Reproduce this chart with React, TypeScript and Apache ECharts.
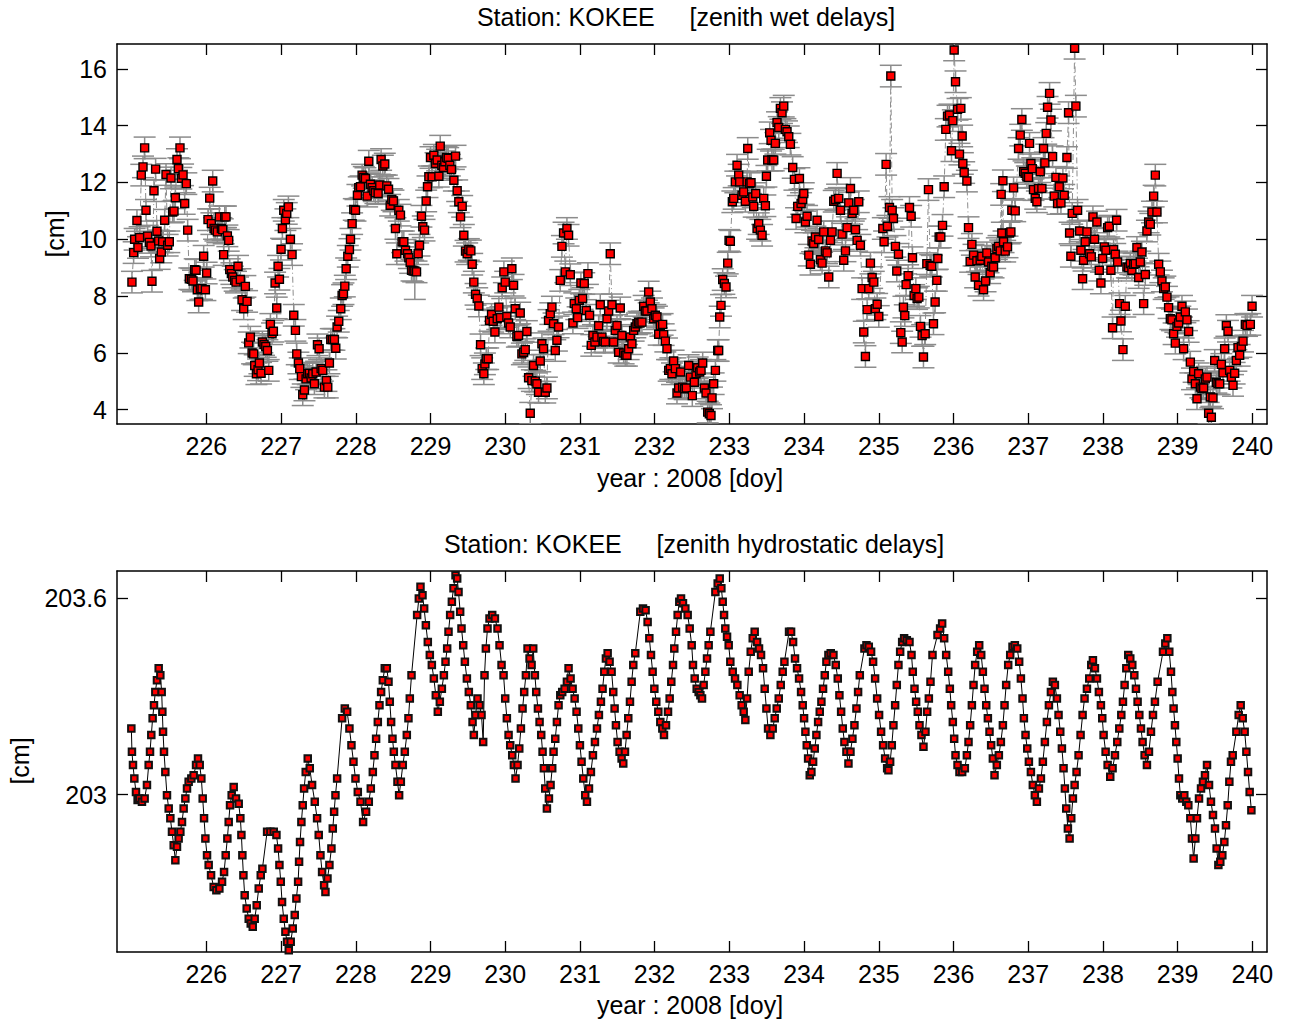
import React, { useEffect, useRef } from "react";
import * as echarts from "echarts";

// ---------- tick values ----------
const xTicks = [226, 227, 228, 229, 230, 231, 232, 233, 234, 235, 236, 237, 238, 239, 240];
const wetYTicks = [4, 6, 8, 10, 12, 14, 16];
const hydroYTicks = [203, 203.6];

// ---------- axis ranges ----------
const X_MIN = 224.804;
const X_MAX = 240.196;
const WET_MIN = 3.49;
const WET_MAX = 16.88;
const HYD_MIN = 202.518;
const HYD_MAX = 203.684;

// default formal error of the wet delays [cm] (third element overrides)
const WET_SIGMA = 0.38;

// ---------- zenith wet delays [doy, cm, (sigma)] ----------
const wetData: number[][] = [
  [225.004, 8.49], [225.027, 9.53], [225.04, 10.0], [225.071, 10.66], [225.085, 9.71], [225.107, 10.06],
  [225.129, 12.26], [225.152, 12.55], [225.174, 13.22], [225.192, 11.02], [225.214, 10.11], [225.237, 9.89],
  [225.259, 9.76], [225.272, 8.52], [225.299, 11.71], [225.321, 12.47], [225.339, 10.28], [225.362, 9.94],
  [225.375, 9.32], [225.397, 9.55], [225.415, 9.91], [225.442, 10.67], [225.46, 12.28], [225.482, 9.79],
  [225.504, 9.91], [225.527, 12.16], [225.549, 10.96], [225.567, 10.99], [225.585, 11.46], [225.607, 12.81],
  [225.625, 12.49], [225.647, 13.22], [225.665, 12.15], [225.688, 12.27], [225.71, 11.26], [225.732, 11.96],
  [225.75, 10.32], [225.772, 8.61], [225.799, 8.59], [225.821, 8.53], [225.844, 8.93], [225.862, 8.91],
  [225.879, 8.22], [225.897, 7.79], [225.92, 8.26], [225.942, 8.26], [225.964, 9.4], [225.987, 8.22],
  [226.004, 8.81], [226.022, 10.69], [226.045, 11.45], [226.067, 10.55], [226.085, 12.05], [226.103, 10.38],
  [226.121, 10.32], [226.147, 10.26], [226.174, 10.79], [226.201, 10.38], [226.219, 10.34], [226.232, 9.46],
  [226.246, 10.79], [226.263, 10.79], [226.281, 10.12], [226.299, 9.96], [226.313, 8.93], [226.335, 8.79],
  [226.353, 8.67], [226.379, 8.55], [226.397, 8.49], [226.424, 9.05], [226.455, 8.58], [226.478, 7.87],
  [226.5, 7.55], [226.522, 8.34], [226.545, 7.81], [226.567, 6.35], [226.589, 6.55], [226.612, 5.99],
  [226.634, 5.96], [226.647, 5.55], [226.67, 5.26], [226.692, 5.4], [226.71, 5.64], [226.732, 5.28],
  [226.75, 6.38], [226.772, 6.29], [226.795, 6.22], [226.817, 6.08], [226.835, 5.38], [226.857, 7.0],
  [226.879, 6.67], [226.897, 6.76], [226.92, 8.46], [226.942, 7.58], [226.96, 9.05], [226.978, 8.59],
  [227.0, 9.65], [227.018, 10.38], [227.036, 11.02], [227.058, 10.69], [227.076, 10.91], [227.098, 11.14],
  [227.125, 10.0], [227.147, 9.46], [227.17, 7.32], [227.192, 6.79], [227.21, 5.96], [227.232, 5.64],
  [227.25, 5.44], [227.272, 5.16], [227.29, 4.52], [227.313, 4.69], [227.335, 5.08], [227.357, 5.26],
  [227.379, 5.28], [227.402, 5.11], [227.424, 5.26], [227.446, 4.91], [227.469, 5.32], [227.487, 6.28],
  [227.509, 6.14], [227.536, 5.44], [227.558, 5.38], [227.58, 4.79], [227.607, 5.02], [227.625, 4.79],
  [227.647, 5.64], [227.665, 6.47], [227.688, 6.47], [227.714, 6.47], [227.732, 6.16], [227.75, 6.91],
  [227.772, 7.11], [227.799, 7.55], [227.817, 8.02], [227.835, 8.08], [227.853, 8.35], [227.871, 8.96],
  [227.893, 9.4], [227.915, 9.64], [227.929, 10.0], [227.951, 10.55], [227.973, 11.05], [227.996, 11.02],
  [228.022, 11.55], [228.04, 11.82], [228.063, 11.85], [228.085, 12.26], [228.107, 12.18], [228.129, 12.14],
  [228.152, 11.52], [228.174, 12.75], [228.196, 11.94], [228.219, 11.82], [228.241, 11.71], [228.263, 11.64],
  [228.299, 11.61], [228.321, 11.91], [228.339, 12.81], [228.362, 12.58], [228.388, 12.65], [228.415, 11.88],
  [228.438, 11.76], [228.46, 11.2], [228.482, 11.4], [228.504, 11.35], [228.531, 10.38], [228.549, 9.49],
  [228.576, 11.02], [228.598, 10.85], [228.62, 9.91], [228.643, 9.91], [228.665, 9.61], [228.692, 9.49],
  [228.71, 9.35], [228.728, 9.18], [228.746, 8.91], [228.768, 8.88], [228.79, 8.88, 1.0], [228.813, 8.85],
  [228.835, 9.49], [228.853, 9.79], [228.879, 10.81], [228.897, 10.44], [228.92, 10.32], [228.942, 11.35],
  [228.96, 11.85], [228.978, 12.2], [229.0, 12.88], [229.022, 12.2], [229.045, 12.96], [229.067, 12.67],
  [229.089, 12.79], [229.112, 12.22], [229.13, 13.28], [229.152, 12.61], [229.174, 12.53], [229.192, 12.73],
  [229.214, 12.88], [229.237, 12.85], [229.259, 12.61], [229.281, 12.46], [229.313, 12.08], [229.335, 12.93],
  [229.357, 11.71], [229.379, 11.32], [229.402, 10.79], [229.424, 11.16], [229.446, 10.14], [229.469, 9.58],
  [229.491, 9.49], [229.513, 9.64], [229.54, 9.59], [229.558, 9.12], [229.58, 8.49], [229.603, 8.06],
  [229.625, 7.91], [229.647, 7.65], [229.67, 6.28], [229.692, 5.44], [229.714, 5.26], [229.728, 5.61],
  [229.746, 5.79], [229.772, 5.79], [229.79, 7.14], [229.817, 7.35], [229.839, 7.11], [229.862, 6.73],
  [229.893, 7.2], [229.915, 7.61], [229.937, 7.24], [229.96, 8.29], [229.982, 8.85],
  [230.0, 8.49], [230.022, 7.28], [230.045, 7.05], [230.067, 6.91], [230.089, 8.96], [230.112, 8.38],
  [230.134, 7.55], [230.156, 6.58], [230.179, 6.61], [230.201, 7.4], [230.223, 5.96], [230.246, 6.02],
  [230.268, 6.11], [230.29, 6.75], [230.313, 5.12], [230.335, 3.87], [230.357, 5.02], [230.379, 5.55],
  [230.402, 5.0], [230.424, 4.91], [230.446, 4.61], [230.469, 5.71], [230.491, 6.32], [230.513, 6.14],
  [230.536, 4.61], [230.558, 4.76], [230.58, 7.14], [230.603, 7.38], [230.625, 7.61], [230.647, 7.02],
  [230.67, 6.08], [230.692, 6.44], [230.714, 6.91], [230.737, 8.55], [230.759, 9.75], [230.781, 10.22],
  [230.804, 8.85], [230.826, 10.38], [230.848, 10.14], [230.871, 8.75], [230.906, 7.05], [230.924, 7.73],
  [230.951, 7.55], [230.969, 7.24], [230.991, 7.85], [231.013, 8.46], [231.036, 7.91], [231.058, 8.44],
  [231.085, 7.49], [231.107, 8.79], [231.129, 7.32], [231.152, 6.26], [231.174, 6.61], [231.201, 6.38],
  [231.228, 6.55], [231.25, 6.95], [231.272, 7.69], [231.295, 6.55], [231.317, 6.4], [231.339, 6.38],
  [231.362, 7.2], [231.384, 7.47], [231.406, 9.49], [231.429, 7.69], [231.451, 6.38], [231.473, 6.79],
  [231.496, 6.96], [231.518, 6.02], [231.54, 7.58], [231.562, 6.61], [231.585, 5.99], [231.607, 5.91],
  [231.629, 5.91], [231.652, 6.14], [231.674, 6.55], [231.696, 6.32], [231.719, 6.79], [231.741, 6.91],
  [231.763, 7.02], [231.786, 7.08], [231.804, 7.05], [231.83, 7.08], [231.853, 7.64], [231.875, 7.47],
  [231.897, 7.47], [231.92, 8.14], [231.942, 7.79], [231.964, 7.55], [231.987, 7.2], [232.009, 7.32],
  [232.031, 7.26], [232.054, 6.65], [232.076, 6.96], [232.107, 7.0], [232.121, 6.64], [232.143, 6.41],
  [232.165, 6.14], [232.188, 5.38], [232.21, 5.44], [232.232, 5.26], [232.254, 5.71], [232.277, 5.44],
  [232.299, 4.58], [232.321, 4.76], [232.348, 5.32], [232.375, 4.79], [232.402, 4.73], [232.424, 4.76],
  [232.455, 5.55], [232.478, 5.14], [232.504, 4.49], [232.531, 4.96], [232.554, 5.26], [232.576, 5.47],
  [232.603, 5.32], [232.621, 5.38], [232.643, 5.64], [232.665, 4.76], [232.688, 4.58], [232.71, 3.91],
  [232.732, 3.85], [232.754, 3.79], [232.768, 4.41], [232.79, 4.91], [232.813, 5.38], [232.844, 6.08],
  [232.857, 6.08], [232.871, 7.26], [232.888, 7.67], [232.911, 8.58], [232.933, 8.44], [232.955, 8.32],
  [232.978, 9.16], [232.996, 9.96], [233.013, 9.93], [233.04, 11.32], [233.058, 11.44], [233.08, 12.02],
  [233.103, 12.61], [233.125, 12.26], [233.138, 12.02], [233.17, 11.55], [233.192, 11.67], [233.214, 11.34],
  [233.237, 12.02], [233.246, 13.2], [233.272, 11.96], [233.29, 11.99], [233.313, 11.49], [233.326, 11.16],
  [233.353, 11.61], [233.371, 10.38], [233.393, 10.55], [233.415, 10.32], [233.438, 10.14], [233.46, 11.44],
  [233.482, 11.18], [233.496, 12.22], [233.513, 12.79], [233.54, 13.75], [233.558, 13.49], [233.571, 12.79],
  [233.594, 12.79], [233.616, 13.38], [233.638, 14.11], [233.661, 13.94], [233.683, 14.61], [233.705, 14.46],
  [233.728, 14.69], [233.75, 13.87], [233.772, 13.79], [233.795, 13.61], [233.817, 13.35], [233.848, 12.53],
  [233.871, 12.11], [233.893, 10.73], [233.915, 11.16], [233.938, 12.14], [233.96, 11.26], [233.982, 11.4],
  [233.996, 11.61], [234.018, 10.61], [234.04, 10.81], [234.063, 9.44], [234.085, 9.12], [234.107, 9.94],
  [234.129, 9.85], [234.152, 10.08], [234.174, 10.67], [234.196, 9.99], [234.219, 9.28], [234.241, 9.16],
  [234.263, 10.26], [234.286, 9.59], [234.308, 9.52], [234.33, 8.67], [234.353, 9.96], [234.375, 10.26],
  [234.397, 11.34], [234.42, 11.4], [234.442, 12.32], [234.464, 11.44], [234.487, 11.02], [234.509, 10.18],
  [234.531, 9.26], [234.554, 9.59], [234.576, 10.41], [234.598, 11.28], [234.621, 11.79], [234.643, 10.91],
  [234.665, 11.02], [234.688, 10.34], [234.71, 9.96], [234.732, 11.32], [234.754, 9.79], [234.777, 8.26],
  [234.799, 6.73], [234.821, 5.87], [234.844, 7.52], [234.866, 8.26], [234.888, 9.16], [234.911, 8.65],
  [234.933, 8.49], [234.955, 7.55], [234.978, 7.71], [235.0, 7.28],
  [235.054, 10.38], [235.071, 9.91], [235.098, 12.64], [235.116, 10.46], [235.143, 11.12], [235.161, 15.75],
  [235.179, 11.02], [235.196, 10.73], [235.223, 9.75], [235.241, 8.88], [235.263, 9.47], [235.295, 6.71],
  [235.313, 6.38], [235.33, 7.61], [235.348, 7.31], [235.366, 8.4], [235.393, 8.72], [235.411, 11.12],
  [235.433, 10.81], [235.451, 9.35], [235.473, 8.02], [235.496, 8.26], [235.513, 7.91], [235.536, 7.96],
  [235.558, 6.93], [235.58, 6.61], [235.598, 5.85], [235.621, 6.67], [235.643, 9.14], [235.665, 11.75],
  [235.688, 9.08], [235.71, 9.05], [235.732, 7.02], [235.754, 7.79], [235.777, 8.55], [235.79, 9.32],
  [235.808, 10.08], [235.83, 10.08], [235.853, 10.49], [235.875, 11.85], [235.897, 13.87], [235.92, 14.34],
  [235.946, 14.38], [235.973, 13.12], [235.991, 14.18], [236.009, 16.67], [236.027, 15.55], [236.054, 14.58],
  [236.08, 13.0], [236.098, 14.61], [236.116, 13.64], [236.125, 12.67], [236.143, 12.35], [236.179, 12.05],
  [236.201, 10.41], [236.223, 9.22], [236.246, 9.82], [236.268, 9.44], [236.29, 8.67], [236.313, 9.24],
  [236.335, 8.38], [236.357, 9.26], [236.379, 9.4], [236.402, 8.22], [236.429, 8.53], [236.446, 9.52],
  [236.469, 9.2], [236.491, 8.82], [236.513, 9.05], [236.536, 9.02], [236.558, 9.35], [236.58, 9.67],
  [236.603, 9.75], [236.625, 9.59], [236.638, 11.58], [236.647, 10.22], [236.661, 12.06], [236.67, 9.91],
  [236.692, 9.58], [236.723, 9.73], [236.75, 10.22], [236.768, 10.26], [236.781, 11.02], [236.804, 11.81],
  [236.826, 11.0], [236.871, 13.2], [236.893, 13.67], [236.915, 14.22], [236.938, 12.38], [236.96, 12.32],
  [236.982, 12.2], [237.004, 12.18], [237.018, 13.38], [237.036, 12.67], [237.054, 12.49], [237.071, 11.75],
  [237.094, 11.44], [237.116, 11.32], [237.138, 11.79], [237.161, 12.38], [237.183, 11.79], [237.205, 13.2],
  [237.223, 12.69], [237.241, 13.73], [237.259, 14.65], [237.286, 15.14], [237.304, 14.2], [237.326, 12.91],
  [237.348, 11.52], [237.371, 12.18], [237.393, 11.26], [237.415, 11.85], [237.438, 11.28], [237.464, 12.16],
  [237.482, 11.55], [237.518, 12.88], [237.54, 14.46], [237.554, 10.22], [237.571, 9.4], [237.589, 10.91],
  [237.621, 16.73], [237.638, 14.69], [237.661, 11.02], [237.688, 10.29], [237.705, 9.61], [237.728, 8.61],
  [237.741, 9.26], [237.763, 9.91], [237.786, 10.26], [237.821, 9.49], [237.844, 9.38], [237.866, 10.79],
  [237.888, 10.0], [237.92, 10.61], [237.951, 8.91], [237.973, 8.46], [237.996, 9.32], [238.018, 9.73],
  [238.04, 9.61], [238.063, 10.41], [238.085, 10.46], [238.107, 8.91], [238.129, 6.88], [238.143, 9.64],
  [238.165, 9.47], [238.183, 10.67], [238.196, 9.2], [238.223, 7.73], [238.241, 7.12], [238.268, 6.11],
  [238.299, 7.64], [238.321, 9.02], [238.344, 9.0], [238.366, 9.14], [238.388, 8.91], [238.411, 9.12],
  [238.433, 9.14], [238.455, 9.71], [238.478, 8.65], [238.5, 9.2], [238.522, 9.55], [238.545, 7.73],
  [238.567, 8.76], [238.589, 10.29], [238.612, 10.61], [238.634, 10.53], [238.656, 10.96], [238.679, 11.52],
  [238.701, 12.26], [238.723, 10.96], [238.746, 9.12], [238.768, 8.85], [238.79, 8.53], [238.813, 8.26],
  [238.835, 8.32], [238.857, 7.96], [238.879, 7.59], [238.902, 7.2], [238.924, 7.16], [238.946, 6.67],
  [238.969, 6.34], [238.991, 6.93], [239.013, 7.05], [239.036, 7.26], [239.058, 7.64], [239.08, 6.14],
  [239.103, 7.44], [239.125, 7.16], [239.147, 6.75], [239.17, 5.67], [239.192, 5.08], [239.214, 5.34],
  [239.237, 4.91], [239.259, 4.38], [239.281, 5.26], [239.304, 4.79], [239.326, 4.73], [239.348, 4.76],
  [239.37, 5.08], [239.393, 5.14], [239.415, 3.87], [239.437, 4.44], [239.451, 3.73], [239.473, 4.41],
  [239.496, 5.73], [239.518, 4.96], [239.54, 4.91], [239.563, 4.91], [239.585, 5.59], [239.607, 5.29],
  [239.629, 6.14], [239.652, 6.96], [239.674, 6.76], [239.696, 5.38], [239.719, 5.14], [239.741, 4.85],
  [239.763, 5.28], [239.786, 5.73], [239.808, 6.18], [239.83, 5.91], [239.853, 6.22], [239.875, 6.41],
  [239.906, 7.0], [239.929, 6.96], [239.973, 7.0], [239.996, 7.64],
];

// ---------- zenith hydrostatic delays [doy, cm] ----------
const hydroData: number[][] = [
  [224.996, 203.202], [225.004, 203.131], [225.018, 203.09], [225.036, 203.049], [225.058, 203.008], [225.08, 202.983],
  [225.103, 202.988], [225.138, 202.978], [225.174, 202.988], [225.205, 203.029], [225.228, 203.09], [225.246, 203.131],
  [225.263, 203.182], [225.281, 203.233], [225.299, 203.273], [225.317, 203.314], [225.339, 203.35], [225.362, 203.386],
  [225.384, 203.365], [225.402, 203.314], [225.411, 203.253], [225.42, 203.192], [225.433, 203.131], [225.451, 203.069],
  [225.473, 202.998], [225.496, 202.957], [225.518, 202.927], [225.54, 202.886], [225.563, 202.845], [225.585, 202.799],
  [225.607, 202.84], [225.629, 202.865], [225.652, 202.886], [225.674, 202.916], [225.696, 202.957], [225.719, 202.988],
  [225.741, 203.018], [225.763, 203.039], [225.799, 203.049], [225.83, 203.059], [225.862, 203.09], [225.888, 203.11],
  [225.911, 203.09], [225.933, 203.049], [225.951, 202.988], [225.969, 202.927], [225.987, 202.865], [226.009, 202.814],
  [226.031, 202.784], [226.063, 202.753], [226.098, 202.717], [226.134, 202.707], [226.174, 202.712], [226.21, 202.733],
  [226.237, 202.763], [226.259, 202.814], [226.281, 202.865], [226.299, 202.916], [226.317, 202.967], [226.339, 202.998],
  [226.366, 203.023], [226.397, 202.988], [226.433, 202.972], [226.455, 202.927], [226.469, 202.876], [226.482, 202.814],
  [226.496, 202.753], [226.513, 202.692], [226.54, 202.651], [226.567, 202.62], [226.594, 202.605], [226.621, 202.595],
  [226.647, 202.62], [226.674, 202.661], [226.701, 202.712], [226.728, 202.753], [226.75, 202.773], [226.813, 202.886],
  [226.857, 202.886], [226.902, 202.886], [226.938, 202.876], [226.96, 202.835], [226.978, 202.784], [226.996, 202.733],
  [227.013, 202.671], [227.036, 202.62], [227.058, 202.58], [227.08, 202.549], [227.103, 202.523], [227.129, 202.549],
  [227.156, 202.59], [227.183, 202.631], [227.205, 202.682], [227.228, 202.733], [227.241, 202.794], [227.254, 202.855],
  [227.272, 202.916], [227.29, 202.967], [227.308, 203.018], [227.33, 203.069], [227.357, 203.11], [227.384, 203.08],
  [227.415, 203.029], [227.451, 202.978], [227.482, 202.927], [227.504, 202.876], [227.527, 202.814], [227.549, 202.763],
  [227.576, 202.722], [227.594, 202.702], [227.621, 202.743], [227.647, 202.784], [227.674, 202.835], [227.692, 202.896],
  [227.71, 202.947], [227.728, 202.998], [227.75, 203.049], [227.817, 203.233], [227.853, 203.263], [227.884, 203.253],
  [227.915, 203.202], [227.942, 203.151], [227.969, 203.1], [227.996, 203.049], [228.027, 203.008], [228.063, 202.978],
  [228.098, 202.916], [228.138, 202.947], [228.174, 202.978], [228.201, 203.018], [228.228, 203.069], [228.25, 203.12],
  [228.272, 203.171], [228.295, 203.222], [228.317, 203.273], [228.339, 203.314], [228.362, 203.35], [228.388, 203.386],
  [228.415, 203.386], [228.438, 203.345], [228.455, 203.284], [228.473, 203.222], [228.491, 203.171], [228.509, 203.131],
  [228.531, 203.09], [228.558, 203.039], [228.58, 202.998], [228.603, 203.039], [228.629, 203.09], [228.656, 203.131],
  [228.683, 203.182], [228.705, 203.233], [228.723, 203.294], [228.746, 203.365], [228.821, 203.549], [228.844, 203.6],
  [228.866, 203.636], [228.893, 203.61], [228.915, 203.569], [228.938, 203.518], [228.964, 203.467], [228.991, 203.427],
  [229.018, 203.396], [229.045, 203.355], [229.071, 203.304], [229.098, 203.253], [229.125, 203.284], [229.152, 203.324],
  [229.179, 203.365], [229.201, 203.406], [229.223, 203.447], [229.241, 203.498], [229.263, 203.549], [229.286, 203.59],
  [229.308, 203.631], [229.335, 203.671], [229.357, 203.661], [229.375, 203.62], [229.397, 203.559], [229.415, 203.508],
  [229.438, 203.457], [229.46, 203.406], [229.487, 203.355], [229.513, 203.314], [229.54, 203.273], [229.563, 203.222],
  [229.58, 203.182], [229.603, 203.243], [229.629, 203.294], [229.656, 203.273], [229.683, 203.243], [229.705, 203.161],
  [229.723, 203.365], [229.741, 203.447], [229.763, 203.508], [229.79, 203.539], [229.826, 203.549], [229.862, 203.539],
  [229.897, 203.508], [229.924, 203.457], [229.951, 203.396], [229.978, 203.365], [230.0, 203.294], [230.022, 203.233],
  [230.045, 203.182], [230.067, 203.151], [230.094, 203.12], [230.116, 203.09], [230.138, 203.049], [230.165, 203.09],
  [230.188, 203.141], [230.21, 203.202], [230.232, 203.263], [230.254, 203.314], [230.277, 203.365], [230.299, 203.447],
  [230.326, 203.416], [230.353, 203.396], [230.375, 203.447], [230.397, 203.365], [230.415, 203.314], [230.438, 203.263],
  [230.46, 203.222], [230.482, 203.182], [230.5, 203.131], [230.518, 203.08], [230.536, 203.018], [230.558, 202.957],
  [230.585, 202.988], [230.607, 203.029], [230.629, 203.08], [230.647, 203.131], [230.67, 203.171], [230.692, 203.222],
  [230.714, 203.273], [230.737, 203.304], [230.763, 203.314], [230.795, 203.324], [230.826, 203.345], [230.848, 203.386],
  [230.875, 203.355], [230.902, 203.324], [230.929, 203.294], [230.955, 203.253], [230.978, 203.202], [231.0, 203.151],
  [231.022, 203.1], [231.045, 203.049], [231.071, 202.998], [231.094, 202.978], [231.121, 203.018], [231.147, 203.069],
  [231.174, 203.12], [231.201, 203.161], [231.228, 203.202], [231.254, 203.243], [231.281, 203.284], [231.303, 203.324],
  [231.326, 203.376], [231.348, 203.416], [231.371, 203.432], [231.397, 203.406], [231.424, 203.376], [231.446, 203.314],
  [231.464, 203.263], [231.482, 203.212], [231.504, 203.161], [231.531, 203.131], [231.558, 203.11], [231.58, 203.095],
  [231.603, 203.131], [231.625, 203.182], [231.647, 203.233], [231.67, 203.284], [231.692, 203.345], [231.714, 203.396],
  [231.741, 203.432], [231.808, 203.559], [231.844, 203.569], [231.879, 203.564], [231.906, 203.528], [231.929, 203.478],
  [231.951, 203.427], [231.973, 203.376], [231.996, 203.324], [232.022, 203.284], [232.049, 203.253], [232.076, 203.222],
  [232.103, 203.202], [232.125, 203.182], [232.152, 203.212], [232.179, 203.253], [232.201, 203.294], [232.223, 203.345],
  [232.246, 203.396], [232.263, 203.447], [232.286, 203.498], [232.308, 203.549], [232.33, 203.59], [232.353, 203.6],
  [232.379, 203.585], [232.411, 203.569], [232.442, 203.549], [232.469, 203.508], [232.496, 203.457], [232.513, 203.396],
  [232.536, 203.355], [232.563, 203.324], [232.589, 203.314], [232.612, 203.304], [232.634, 203.294], [232.656, 203.335],
  [232.679, 203.376], [232.701, 203.416], [232.723, 203.457], [232.746, 203.498], [232.813, 203.62], [232.844, 203.646],
  [232.871, 203.661], [232.893, 203.631], [232.911, 203.59], [232.929, 203.549], [232.946, 203.508], [232.969, 203.483],
  [232.991, 203.457], [233.013, 203.406], [233.045, 203.376], [233.076, 203.355], [233.107, 203.335], [233.138, 203.304],
  [233.165, 203.273], [233.192, 203.253], [233.214, 203.228], [233.237, 203.294], [233.259, 203.376], [233.286, 203.437],
  [233.313, 203.478], [233.339, 203.498], [233.371, 203.467], [233.397, 203.447], [233.424, 203.427], [233.451, 203.386],
  [233.473, 203.324], [233.496, 203.263], [233.518, 203.202], [233.549, 203.182], [233.58, 203.202], [233.607, 203.233],
  [233.634, 203.263], [233.661, 203.294], [233.688, 203.335], [233.714, 203.376], [233.737, 203.406], [233.799, 203.498],
  [233.826, 203.498], [233.853, 203.467], [233.879, 203.416], [233.906, 203.386], [233.933, 203.355], [233.96, 203.314],
  [233.982, 203.273], [234.0, 203.233], [234.018, 203.192], [234.036, 203.151], [234.054, 203.11], [234.076, 203.059],
  [234.098, 203.069], [234.121, 203.1], [234.143, 203.141], [234.165, 203.182], [234.188, 203.222], [234.21, 203.253],
  [234.232, 203.284], [234.254, 203.324], [234.277, 203.365], [234.299, 203.406], [234.326, 203.427], [234.357, 203.432],
  [234.393, 203.427], [234.424, 203.396], [234.451, 203.355], [234.473, 203.304], [234.496, 203.253], [234.518, 203.202],
  [234.54, 203.161], [234.567, 203.131], [234.594, 203.095], [234.621, 203.131], [234.647, 203.171], [234.674, 203.212],
  [234.701, 203.263], [234.723, 203.314], [234.746, 203.365], [234.808, 203.447], [234.835, 203.457], [234.866, 203.452],
  [234.897, 203.437], [234.924, 203.406], [234.951, 203.355], [234.978, 203.294], [235.004, 203.243], [235.031, 203.192],
  [235.058, 203.151], [235.085, 203.11], [235.112, 203.08], [235.129, 203.074], [235.152, 203.1], [235.174, 203.151],
  [235.196, 203.212], [235.219, 203.273], [235.241, 203.335], [235.263, 203.396], [235.286, 203.437], [235.313, 203.467],
  [235.339, 203.478], [235.375, 203.472], [235.411, 203.467], [235.438, 203.427], [235.455, 203.376], [235.478, 203.324],
  [235.5, 203.284], [235.522, 203.253], [235.545, 203.212], [235.571, 203.182], [235.598, 203.146], [235.625, 203.192],
  [235.647, 203.253], [235.67, 203.294], [235.692, 203.345], [235.719, 203.427], [235.786, 203.488], [235.821, 203.508],
  [235.848, 203.523], [235.875, 203.478], [235.902, 203.427], [235.929, 203.376], [235.951, 203.324], [235.969, 203.273],
  [235.991, 203.222], [236.009, 203.171], [236.027, 203.12], [236.054, 203.09], [236.08, 203.069], [236.116, 203.069],
  [236.152, 203.08], [236.179, 203.12], [236.201, 203.161], [236.223, 203.212], [236.246, 203.273], [236.268, 203.335],
  [236.29, 203.396], [236.317, 203.437], [236.344, 203.457], [236.371, 203.427], [236.393, 203.376], [236.415, 203.324],
  [236.438, 203.273], [236.46, 203.233], [236.482, 203.192], [236.504, 203.151], [236.527, 203.11], [236.549, 203.059],
  [236.58, 203.09], [236.607, 203.12], [236.634, 203.161], [236.661, 203.212], [236.683, 203.273], [236.705, 203.335],
  [236.732, 203.396], [236.759, 203.427], [236.79, 203.452], [236.821, 203.457], [236.853, 203.447], [236.879, 203.406],
  [236.902, 203.355], [236.924, 203.294], [236.942, 203.233], [236.964, 203.182], [236.987, 203.141], [237.009, 203.1],
  [237.036, 203.069], [237.062, 203.029], [237.089, 202.998], [237.116, 202.978], [237.143, 203.018], [237.17, 203.049],
  [237.196, 203.1], [237.223, 203.161], [237.25, 203.222], [237.277, 203.273], [237.304, 203.314], [237.33, 203.345],
  [237.357, 203.335], [237.384, 203.294], [237.406, 203.243], [237.429, 203.192], [237.451, 203.141], [237.473, 203.08],
  [237.491, 203.018], [237.509, 202.957], [237.531, 202.896], [237.554, 202.865], [237.576, 202.927], [237.598, 202.988],
  [237.621, 203.029], [237.647, 203.069], [237.674, 203.12], [237.701, 203.182], [237.728, 203.243], [237.754, 203.294],
  [237.786, 203.324], [237.817, 203.355], [237.844, 203.396], [237.866, 203.411], [237.893, 203.386], [237.92, 203.355],
  [237.946, 203.314], [237.973, 203.273], [237.991, 203.233], [238.009, 203.182], [238.036, 203.131], [238.063, 203.09],
  [238.098, 203.054], [238.129, 203.08], [238.161, 203.12], [238.192, 203.161], [238.219, 203.202], [238.246, 203.243],
  [238.268, 203.284], [238.29, 203.335], [238.313, 203.386], [238.339, 203.427], [238.366, 203.416], [238.393, 203.396],
  [238.42, 203.365], [238.442, 203.324], [238.464, 203.284], [238.487, 203.243], [238.509, 203.202], [238.531, 203.161],
  [238.558, 203.12], [238.589, 203.09], [238.616, 203.131], [238.643, 203.192], [238.67, 203.243], [238.696, 203.284],
  [238.732, 203.345], [238.804, 203.437], [238.835, 203.462], [238.862, 203.478], [238.888, 203.437], [238.911, 203.376],
  [238.929, 203.314], [238.946, 203.263], [238.964, 203.212], [238.982, 203.161], [239.0, 203.11], [239.018, 203.049],
  [239.036, 202.998], [239.062, 202.988], [239.089, 202.998], [239.116, 202.978], [239.143, 202.967], [239.17, 202.927],
  [239.192, 202.865], [239.214, 202.804], [239.237, 202.865], [239.259, 202.927], [239.286, 202.988], [239.313, 203.018],
  [239.339, 203.039], [239.366, 203.059], [239.393, 203.09], [239.42, 203.029], [239.446, 202.978], [239.473, 202.937],
  [239.5, 202.896], [239.522, 202.835], [239.545, 202.784], [239.571, 202.794], [239.598, 202.814], [239.625, 202.855],
  [239.647, 202.906], [239.67, 202.967], [239.692, 203.039], [239.714, 203.1], [239.737, 203.12], [239.786, 203.192],
  [239.817, 203.243], [239.844, 203.273], [239.871, 203.233], [239.897, 203.192], [239.92, 203.131], [239.942, 203.069],
  [239.964, 203.008], [239.987, 202.952],
];

// ---------- texts ----------
const wetTitle = "Station: KOKEE     [zenith wet delays]";
const hydroTitle = "Station: KOKEE     [zenith hydrostatic delays]";
const xLabel = "year : 2008 [doy]";
const yLabel = "[cm]";

const FONT = "'Liberation Sans', Arial, Helvetica, sans-serif";
const FS = 25;

function App() {
  const ref = useRef<HTMLDivElement>(null);

  useEffect(() => {
    document.body.style.margin = "0";
    const chart = echarts.init(ref.current as HTMLDivElement, null, { renderer: "svg" });

    const axisLine = { onZero: false, lineStyle: { color: "#000", width: 1.5 } };
    const tickStyle = { color: "#000", width: 1.3 };
    const label = { fontSize: FS, color: "#000", fontFamily: FONT };

    const makeX = (gridIndex: number, top: boolean) => ({
      type: "value",
      gridIndex,
      min: X_MIN,
      max: X_MAX,
      position: top ? "top" : "bottom",
      axisLine,
      axisTick: { show: true, inside: true, length: 11, customValues: xTicks, lineStyle: tickStyle },
      axisLabel: top ? { show: false } : { ...label, margin: 9, customValues: xTicks },
      splitLine: { show: false },
    });
    const makeY = (gridIndex: number, right: boolean, min: number, max: number, ticks: number[], fmt?: (v: number) => string) => ({
      type: "value",
      gridIndex,
      min,
      max,
      position: right ? "right" : "left",
      axisLine,
      axisTick: { show: true, inside: true, length: 11, customValues: ticks, lineStyle: tickStyle },
      axisLabel: right ? { show: false } : { ...label, margin: 10, customValues: ticks, formatter: fmt },
      splitLine: { show: false },
    });

    const errData = wetData.map((p) => [p[0], p[1], p.length > 2 ? p[2] : WET_SIGMA]);
    const barStyle = { stroke: "#8c8c8c", lineWidth: 1.5 };
    const CAP = 11;

    const textEl = (text: string, x: number, y: number, rotation = 0) => ({
      type: "text",
      x,
      y,
      rotation,
      style: {
        text,
        fontSize: FS,
        fontFamily: FONT,
        fill: "#000",
        textAlign: "center",
        textVerticalAlign: "middle",
        align: "center",
        verticalAlign: "middle",
      },
    });

    chart.setOption({
      animation: false,
      backgroundColor: "#fff",
      grid: [
        { left: 117, top: 44, width: 1150, height: 380 },
        { left: 117, top: 571, width: 1150, height: 381 },
      ],
      xAxis: [makeX(0, false), makeX(0, true), makeX(1, false), makeX(1, true)],
      yAxis: [
        makeY(0, false, WET_MIN, WET_MAX, wetYTicks),
        makeY(0, true, WET_MIN, WET_MAX, wetYTicks),
        makeY(1, false, HYD_MIN, HYD_MAX, hydroYTicks, (v: number) => (Math.abs(v - 203) < 1e-6 ? "203" : v.toFixed(1))),
        makeY(1, true, HYD_MIN, HYD_MAX, hydroYTicks),
      ],
      graphic: [
        textEl(wetTitle, 686, 17),
        textEl(xLabel, 690, 478),
        textEl(yLabel, 55, 234, Math.PI / 2),
        textEl(hydroTitle, 694, 544),
        textEl(xLabel, 690, 1005),
        textEl(yLabel, 20, 761, Math.PI / 2),
      ],
      series: [
        {
          type: "custom",
          xAxisIndex: 0,
          yAxisIndex: 0,
          clip: true,
          data: errData,
          renderItem: (_params: any, api: any) => {
            const x = api.value(0);
            const y = api.value(1);
            const s = api.value(2);
            const t = api.coord([x, y + s]);
            const b = api.coord([x, y - s]);
            return {
              type: "group",
              children: [
                { type: "line", shape: { x1: t[0], y1: t[1], x2: b[0], y2: b[1] }, style: barStyle },
                { type: "line", shape: { x1: t[0] - CAP, y1: t[1], x2: t[0] + CAP, y2: t[1] }, style: barStyle },
                { type: "line", shape: { x1: b[0] - CAP, y1: b[1], x2: b[0] + CAP, y2: b[1] }, style: barStyle },
              ],
            };
          },
          z: 1,
        },
        {
          type: "line",
          xAxisIndex: 0,
          yAxisIndex: 0,
          data: wetData.map((p) => [p[0], p[1]]),
          symbol: "rect",
          symbolSize: 8,
          showSymbol: true,
          showAllSymbol: true,
          lineStyle: { color: "#8c8c8c", width: 1, type: [6, 3, 1, 3] },
          itemStyle: { color: "#ff0000", borderColor: "#000", borderWidth: 1.4 },
          z: 2,
        },
        {
          type: "line",
          xAxisIndex: 2,
          yAxisIndex: 2,
          data: hydroData,
          symbol: "rect",
          symbolSize: 6.5,
          showSymbol: true,
          showAllSymbol: true,
          lineStyle: { color: "#000", width: 1 },
          itemStyle: { color: "#ff0000", borderColor: "#111", borderWidth: 2 },
          z: 2,
        },
      ],
    });

    return () => chart.dispose();
  }, []);

  return <div ref={ref} style={{ width: 1300, height: 1026 }} />;
}

export default App;
